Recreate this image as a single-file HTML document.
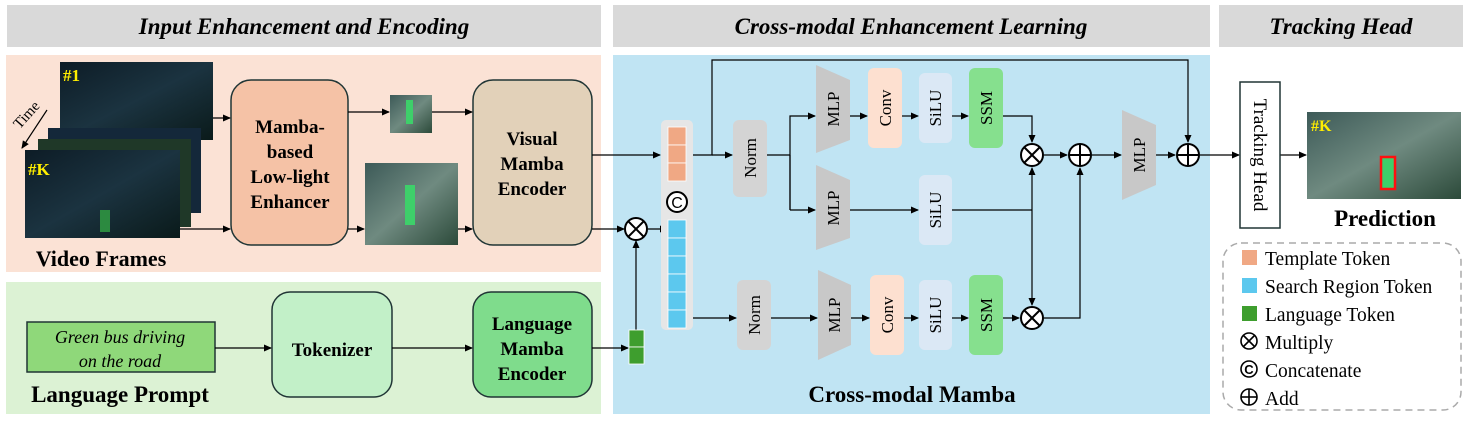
<!DOCTYPE html>
<html><head><meta charset="utf-8"><style>body{margin:0;background:#fff}svg{display:block}</style></head><body>
<svg width="1469" height="421" viewBox="0 0 1469 421" xmlns="http://www.w3.org/2000/svg" font-family="Liberation Serif, serif">
<defs>
<marker id="a" markerWidth="8" markerHeight="8" refX="7" refY="4" orient="auto" markerUnits="userSpaceOnUse"><path d="M0,0.5 L8,4 L0,7.5 z" fill="#000"/></marker>
<linearGradient id="night" x1="0" y1="0" x2="1" y2="1"><stop offset="0" stop-color="#0d1c26"/><stop offset="0.5" stop-color="#1b3340"/><stop offset="1" stop-color="#0a1a1a"/></linearGradient>
<linearGradient id="lit" x1="0" y1="0" x2="1" y2="1"><stop offset="0" stop-color="#3d5a58"/><stop offset="0.5" stop-color="#6f8a80"/><stop offset="1" stop-color="#2c4a3a"/></linearGradient>
</defs>
<rect x="7" y="5" width="594" height="42" fill="#d9d9d9"/>
<rect x="613" y="5" width="597" height="42" fill="#d9d9d9"/>
<rect x="1219" y="5" width="244" height="42" fill="#d9d9d9"/>
<g font-weight="bold" font-style="italic" font-size="23" text-anchor="middle">
<text x="304" y="34">Input Enhancement and Encoding</text>
<text x="911" y="34">Cross-modal Enhancement Learning</text>
<text x="1341" y="34">Tracking Head</text>
</g>
<rect x="6" y="55" width="595" height="217" fill="#fbe2d5"/>
<rect x="6" y="282" width="595" height="132" fill="#dcf2d4"/>
<rect x="613" y="55" width="597" height="359" fill="#c0e4f3"/>
<rect x="60" y="62" width="153" height="78" fill="url(#night)"/>
<rect x="48" y="128" width="153" height="85" fill="#14283a"/>
<rect x="38" y="139" width="153" height="88" fill="#1f3828"/>
<rect x="25" y="150" width="155" height="88" fill="url(#night)"/>
<rect x="100" y="210" width="10" height="22" fill="#2c8a40"/>
<text x="63" y="81" font-weight="bold" font-size="17" fill="#ffee00">#1</text>
<text x="28" y="175" font-weight="bold" font-size="17" fill="#ffee00">#K</text>
<text x="30" y="118" font-size="15" transform="rotate(-48 30 118)" text-anchor="middle">Time</text>
<line x1="47" y1="110" x2="22" y2="148" stroke="#000" stroke-width="1.2" marker-end="url(#a)"/>
<text x="101" y="266" font-weight="bold" font-size="22" text-anchor="middle">Video Frames</text>
<rect x="231" y="80" width="117" height="165" rx="20" fill="#f5c2a6" stroke="#203535" stroke-width="1.5"/>
<g font-weight="bold" font-size="19" text-anchor="middle">
<text x="290" y="133">Mamba-</text><text x="290" y="158">based</text><text x="290" y="183">Low-light</text><text x="290" y="208">Enhancer</text>
</g>
<rect x="390" y="95" width="42" height="38" fill="url(#lit)"/><rect x="406" y="100" width="7" height="24" fill="#3ecf6a"/>
<rect x="365" y="163" width="93" height="82" fill="url(#lit)"/><rect x="405" y="185" width="10" height="40" fill="#3ecf6a"/>
<rect x="473" y="80" width="119" height="165" rx="20" fill="#e2d1b9" stroke="#203535" stroke-width="1.5"/>
<g font-weight="bold" font-size="19" text-anchor="middle">
<text x="532" y="145">Visual</text><text x="532" y="170">Mamba</text><text x="532" y="195">Encoder</text>
</g>
<g stroke="#000" stroke-width="1.2" fill="none">
<line x1="213" y1="118" x2="230" y2="118" marker-end="url(#a)"/>
<line x1="180" y1="229" x2="230" y2="229" marker-end="url(#a)"/>
<line x1="348" y1="112" x2="389" y2="112" marker-end="url(#a)"/>
<line x1="432" y1="112" x2="472" y2="112" marker-end="url(#a)"/>
<line x1="348" y1="229" x2="364" y2="229" marker-end="url(#a)"/>
<line x1="458" y1="229" x2="472" y2="229" marker-end="url(#a)"/>
</g>
<rect x="27" y="322" width="188" height="50" fill="#8fd87a" stroke="#203535" stroke-width="1.5"/>
<g font-style="italic" font-size="18" text-anchor="middle"><text x="120" y="343">Green bus driving</text><text x="120" y="367">on the road</text></g>
<text x="120" y="402" font-weight="bold" font-size="23" text-anchor="middle">Language Prompt</text>
<rect x="272" y="292" width="120" height="105" rx="18" fill="#c2f0c8" stroke="#203535" stroke-width="1.5"/>
<text x="332" y="356" font-weight="bold" font-size="19" text-anchor="middle">Tokenizer</text>
<rect x="473" y="292" width="119" height="105" rx="18" fill="#7fdc8c" stroke="#203535" stroke-width="1.5"/>
<g font-weight="bold" font-size="19" text-anchor="middle"><text x="532" y="330">Language</text><text x="532" y="355">Mamba</text><text x="532" y="380">Encoder</text></g>
<g stroke="#000" stroke-width="1.2" fill="none">
<line x1="215" y1="348" x2="271" y2="348" marker-end="url(#a)"/>
<line x1="392" y1="348" x2="472" y2="348" marker-end="url(#a)"/>
<line x1="592" y1="348" x2="628" y2="348" marker-end="url(#a)"/>
<line x1="592" y1="155" x2="660" y2="155" marker-end="url(#a)"/>
<line x1="592" y1="229" x2="624" y2="229" marker-end="url(#a)"/>
<line x1="636" y1="330" x2="636" y2="241" marker-end="url(#a)"/>
<line x1="648" y1="229" x2="667" y2="229" marker-end="url(#a)"/>
<polyline points="693,155 712,155 712,60 1188,60 1188,142" marker-end="url(#a)"/>
<line x1="712" y1="155" x2="732" y2="155" marker-end="url(#a)"/>
<line x1="693" y1="318" x2="736" y2="318" marker-end="url(#a)"/>
<line x1="767" y1="155" x2="790" y2="155"/>
<polyline points="790,210 790,116 815,116" marker-end="url(#a)"/>
<line x1="790" y1="155" x2="790" y2="210"/>
<line x1="790" y1="210" x2="815" y2="210" marker-end="url(#a)"/>
<line x1="850" y1="116" x2="867" y2="116" marker-end="url(#a)"/>
<line x1="902" y1="116" x2="918" y2="116" marker-end="url(#a)"/>
<line x1="952" y1="116" x2="968" y2="116" marker-end="url(#a)"/>
<polyline points="1003,116 1032,116 1032,142" marker-end="url(#a)"/>
<line x1="850" y1="210" x2="918" y2="210" marker-end="url(#a)"/>
<line x1="952" y1="210" x2="1032" y2="210"/>
<line x1="1032" y1="210" x2="1032" y2="168" marker-end="url(#a)"/>
<line x1="1032" y1="210" x2="1032" y2="305" marker-end="url(#a)"/>
<line x1="771" y1="318" x2="817" y2="318" marker-end="url(#a)"/>
<line x1="851" y1="318" x2="869" y2="318" marker-end="url(#a)"/>
<line x1="904" y1="318" x2="918" y2="318" marker-end="url(#a)"/>
<line x1="952" y1="318" x2="968" y2="318" marker-end="url(#a)"/>
<line x1="1003" y1="318" x2="1019" y2="318" marker-end="url(#a)"/>
<polyline points="1044,318 1080,318 1080,168" marker-end="url(#a)"/>
<line x1="1044" y1="155" x2="1067" y2="155" marker-end="url(#a)"/>
<line x1="1092" y1="155" x2="1121" y2="155" marker-end="url(#a)"/>
<line x1="1156" y1="155" x2="1175" y2="155" marker-end="url(#a)"/>
<line x1="1200" y1="155" x2="1239" y2="155" marker-end="url(#a)"/>
<line x1="1280" y1="155" x2="1306" y2="155" marker-end="url(#a)"/>
</g>
<rect x="629" y="330" width="15" height="17" fill="#3e9e2e" stroke="#fff" stroke-width="0.8"/>
<rect x="629" y="347" width="15" height="17" fill="#3e9e2e" stroke="#fff" stroke-width="0.8"/>
<rect x="661" y="120" width="32" height="210" rx="5" fill="#e6e6e6"/>
<g fill="#f0a884" stroke="#fff" stroke-width="0.8"><rect x="668" y="127" width="18" height="18"/><rect x="668" y="145" width="18" height="18"/><rect x="668" y="163" width="18" height="18"/></g>
<g fill="#5cc8ee" stroke="#fff" stroke-width="0.8"><rect x="668" y="220" width="18" height="18"/><rect x="668" y="238" width="18" height="18"/><rect x="668" y="256" width="18" height="18"/><rect x="668" y="274" width="18" height="18"/><rect x="668" y="292" width="18" height="18"/><rect x="668" y="310" width="18" height="18"/></g>
<circle cx="677" cy="202" r="10" fill="#fff" stroke="#000" stroke-width="2"/>
<text x="677" y="208" font-size="16" text-anchor="middle" font-family="Liberation Sans, sans-serif">C</text>
<g stroke="#000" stroke-width="2" fill="#fff">
<circle cx="636" cy="229" r="11"/><line x1="628" y1="221" x2="644" y2="237"/><line x1="644" y1="221" x2="628" y2="237"/>
<circle cx="1032" cy="155" r="11"/><line x1="1024" y1="147" x2="1040" y2="163"/><line x1="1040" y1="147" x2="1024" y2="163"/>
<circle cx="1032" cy="318" r="11"/><line x1="1024" y1="310" x2="1040" y2="326"/><line x1="1040" y1="310" x2="1024" y2="326"/>
<circle cx="1080" cy="155" r="11"/><line x1="1069" y1="155" x2="1091" y2="155"/><line x1="1080" y1="144" x2="1080" y2="166"/>
<circle cx="1188" cy="155" r="11"/><line x1="1177" y1="155" x2="1199" y2="155"/><line x1="1188" y1="144" x2="1188" y2="166"/>
</g>
<rect x="733" y="120" width="34" height="77" rx="6" fill="#d4d4d4"/>
<rect x="737" y="280" width="34" height="70" rx="6" fill="#d4d4d4"/>
<g fill="#c8c8c8">
<polygon points="816,65 850,80 850,140 816,153"/>
<polygon points="816,165 850,180 850,238 816,250"/>
<polygon points="818,270 851,285 851,345 818,360"/>
<polygon points="1122,110 1156,125 1156,185 1122,200"/>
</g>
<rect x="868" y="68" width="34" height="80" rx="6" fill="#fde0d0"/>
<rect x="870" y="275" width="34" height="80" rx="6" fill="#fde0d0"/>
<rect x="919" y="73" width="33" height="70" rx="6" fill="#dbe8f5"/>
<rect x="919" y="175" width="33" height="70" rx="6" fill="#dbe8f5"/>
<rect x="919" y="280" width="33" height="70" rx="6" fill="#dbe8f5"/>
<rect x="969" y="68" width="34" height="80" rx="6" fill="#86e08e"/>
<rect x="969" y="275" width="34" height="80" rx="6" fill="#86e08e"/>
<g font-size="17" text-anchor="middle">
<text transform="translate(756,158) rotate(-90)">Norm</text>
<text transform="translate(760,315) rotate(-90)">Norm</text>
<text transform="translate(839,109) rotate(-90)">MLP</text>
<text transform="translate(839,208) rotate(-90)">MLP</text>
<text transform="translate(840,315) rotate(-90)">MLP</text>
<text transform="translate(1145,155) rotate(-90)">MLP</text>
<text transform="translate(891,108) rotate(-90)">Conv</text>
<text transform="translate(893,315) rotate(-90)">Conv</text>
<text transform="translate(941,108) rotate(-90)">SiLU</text>
<text transform="translate(941,210) rotate(-90)">SiLU</text>
<text transform="translate(941,315) rotate(-90)">SiLU</text>
<text transform="translate(992,108) rotate(-90)">SSM</text>
<text transform="translate(992,315) rotate(-90)">SSM</text>
</g>
<text x="912" y="402" font-weight="bold" font-size="23" text-anchor="middle">Cross-modal Mamba</text>
<rect x="1240" y="82" width="40" height="146" fill="#fff" stroke="#203535" stroke-width="1.5"/>
<text transform="translate(1254,155) rotate(90)" font-size="19" text-anchor="middle">Tracking Head</text>
<rect x="1307" y="112" width="154" height="87" fill="url(#lit)"/>
<rect x="1381" y="157" width="14" height="32" fill="#3ecf6a" stroke="#ff1010" stroke-width="2.5"/>
<text x="1311" y="131" font-weight="bold" font-size="16" fill="#ffee00">#K</text>
<text x="1385" y="226" font-weight="bold" font-size="23" text-anchor="middle">Prediction</text>
<rect x="1223" y="243" width="238" height="167" rx="18" fill="none" stroke="#aaa" stroke-width="1.5" stroke-dasharray="7,5"/>
<rect x="1242" y="250" width="15" height="15" fill="#f0a884"/>
<rect x="1242" y="278" width="15" height="15" fill="#5cc8ee"/>
<rect x="1242" y="306" width="15" height="15" fill="#3e9e2e"/>
<g stroke="#000" stroke-width="1.6" fill="none">
<circle cx="1249" cy="341" r="8"/><line x1="1243" y1="335" x2="1255" y2="347"/><line x1="1255" y1="335" x2="1243" y2="347"/>
<circle cx="1249" cy="369" r="8"/>
<circle cx="1249" cy="397" r="8"/><line x1="1241" y1="397" x2="1257" y2="397"/><line x1="1249" y1="389" x2="1249" y2="405"/>
</g>
<text x="1249" y="374" font-size="13" text-anchor="middle" font-family="Liberation Sans, sans-serif" font-weight="bold">C</text>
<g font-size="19.5">
<text x="1265" y="265">Template Token</text>
<text x="1265" y="293">Search Region Token</text>
<text x="1265" y="321">Language Token</text>
<text x="1265" y="349">Multiply</text>
<text x="1265" y="377">Concatenate</text>
<text x="1265" y="405">Add</text>
</g>
</svg>
</body></html>
